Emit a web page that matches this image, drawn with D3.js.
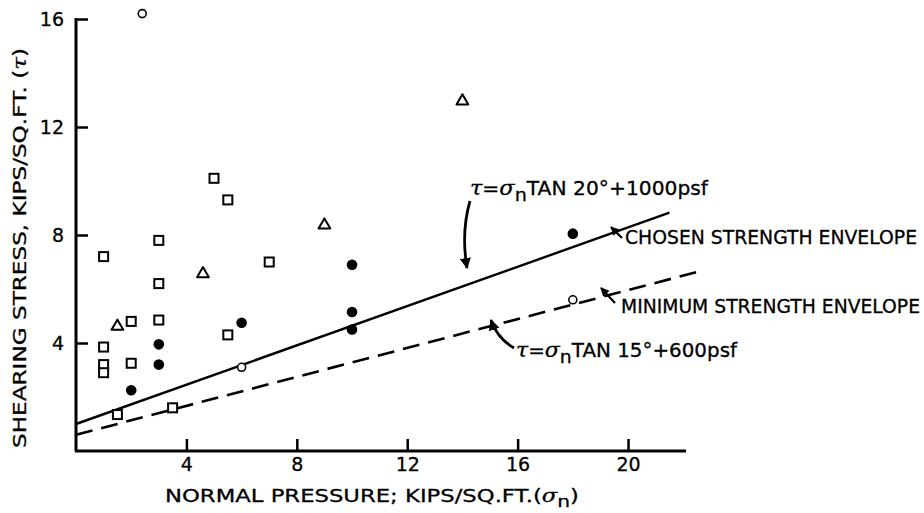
<!DOCTYPE html>
<html>
<head>
<meta charset="utf-8">
<script src="https://cdn.jsdelivr.net/npm/d3@7"></script>
<style>
  html, body { margin: 0; padding: 0; background: #fff; }
  svg { display: block; }
  text { font-family: "DejaVu Sans", "Liberation Sans", Arial, sans-serif; fill: #000; stroke: #000; stroke-width: 0.3px; }
</style>
</head>
<body>
<svg id="chart" width="924" height="513"></svg>
<script>
// Direct shear test results: normal pressure (sigma_n) vs shearing stress (tau), kips/sq.ft.
const squarePoints = [
  [1, 7.2], [5, 10.1], [5.5, 9.3], [3, 7.8], [7, 7.0], [3, 6.2], [2, 4.8], [3, 4.85],
  [5.5, 4.3], [1, 3.85], [1, 3.2], [1, 2.9], [2, 3.25], [1.5, 1.35], [3.5, 1.6]
];
const trianglePoints = [[4.6, 6.6], [1.5, 4.65], [14, 13.0], [9, 8.4]];
const filledCirclePoints = [[3, 3.95], [3, 3.2], [2, 2.25], [6, 4.75], [10, 6.9], [10, 5.15], [10, 4.5], [18, 8.05]];
const openCirclePoints = [[6, 3.1], [18, 5.6], [2.4, 16.2]];

const xTicks = [4, 8, 12, 16, 20];
const yTicks = [4, 8, 12, 16];

// Strength envelopes: tau = sigma_n * tan(phi) + c  (c in kips/sq.ft.)
const chosenEnvelope = { phiDeg: 20, cohesion: 1.0, xEnd: 21.5 };
const minimumEnvelope = { phiDeg: 15, cohesion: 0.6, xEnd: 22.6 };

const svg = d3.select("#chart");
const FONT = '"DejaVu Sans", "Liberation Sans", Arial, sans-serif';
const GREEK = '"DejaVu Serif", serif';

const x = d3.scaleLinear().domain([0, 22.1]).range([76, 686]);
const y = d3.scaleLinear().domain([0, 16]).range([451, 19]);

// Axes with inward ticks
const yAxis = d3.axisLeft(y).tickValues(yTicks).tickSize(-12).tickSizeOuter(0).tickPadding(12);
const xAxis = d3.axisBottom(x).tickValues(xTicks).tickSize(-12).tickSizeOuter(0).tickPadding(7);

const gy = svg.append("g").attr("transform", `translate(${x(0)},0)`).call(yAxis);
const gx = svg.append("g").attr("transform", `translate(0,${y(0)})`).call(xAxis);

[gx, gy].forEach(g => {
  g.select(".domain").attr("stroke", "#000").attr("stroke-width", 3);
  g.selectAll(".tick line").attr("stroke", "#000").attr("stroke-width", 2.5);
  g.selectAll(".tick text")
    .attr("fill", "#000")
    .style("font-family", FONT)
    .style("font-size", "19px");
});
// square corners where the axes end
gy.select(".domain").attr("d", `M0,${y(0)}V${y(16) - 1}`);
gx.select(".domain").attr("d", `M${x(0) - 1},0H${x.range()[1]}`);

// Axis titles
const xTitle = svg.append("text")
  .attr("x", 165).attr("y", 502)
  .attr("textLength", 414).attr("lengthAdjust", "spacingAndGlyphs")
  .style("font-size", "18px");
xTitle.append("tspan").text("NORMAL PRESSURE; KIPS/SQ.FT.(");
xTitle.append("tspan").style("font-family", GREEK).style("font-style", "italic").text("σ");
xTitle.append("tspan").attr("dy", 5).style("font-size", "16px").text("n");
xTitle.append("tspan").attr("dy", -5).text(")");

const yTitle = svg.append("text")
  .attr("transform", "translate(26,248) rotate(-90)")
  .attr("text-anchor", "middle")
  .attr("textLength", 400).attr("lengthAdjust", "spacingAndGlyphs")
  .style("font-size", "18px");
yTitle.append("tspan").text("SHEARING STRESS, KIPS/SQ.FT. (");
yTitle.append("tspan").style("font-family", GREEK).style("font-style", "italic").text("τ");
yTitle.append("tspan").text(")");

// Envelope lines
const line = d3.line().x(d => x(d[0])).y(d => y(d[1]));
function envelope(e) {
  const t = Math.tan(e.phiDeg * Math.PI / 180);
  return [[0, e.cohesion], [e.xEnd, e.cohesion + t * e.xEnd]];
}
svg.append("path").datum(envelope(chosenEnvelope))
  .attr("d", line).attr("fill", "none").attr("stroke", "#000").attr("stroke-width", 2.4);
svg.append("path").datum(envelope(minimumEnvelope))
  .attr("d", line).attr("fill", "none").attr("stroke", "#000").attr("stroke-width", 2.6)
  .attr("stroke-dasharray", "17,9");

// Markers
const pts = svg.append("g");
const sq = 9;
pts.selectAll(".sq").data(squarePoints).join("rect")
  .attr("x", d => x(d[0]) - sq / 2).attr("y", d => y(d[1]) - sq / 2)
  .attr("width", sq).attr("height", sq)
  .attr("fill", "#fff").attr("stroke", "#000").attr("stroke-width", 2);
const tri = d3.symbol().type(d3.symbolTriangle).size(60);
pts.selectAll(".tri").data(trianglePoints).join("path")
  .attr("d", tri)
  .attr("transform", d => `translate(${x(d[0])},${y(d[1]) + 1})`)
  .attr("fill", "#fff").attr("stroke", "#000").attr("stroke-width", 2).attr("stroke-linejoin", "round");
pts.selectAll(".fc").data(filledCirclePoints).join("circle")
  .attr("cx", d => x(d[0])).attr("cy", d => y(d[1])).attr("r", 5.3).attr("fill", "#000");
pts.selectAll(".oc").data(openCirclePoints).join("circle")
  .attr("cx", d => x(d[0])).attr("cy", d => y(d[1])).attr("r", 4)
  .attr("fill", "#fff").attr("stroke", "#000").attr("stroke-width", 1.6);

// Equation labels
function equation(px, py, phi, cText, len) {
  const t = svg.append("text").attr("x", px).attr("y", py).style("font-size", "19px")
    .attr("textLength", len).attr("lengthAdjust", "spacingAndGlyphs");
  t.append("tspan").style("font-family", GREEK).style("font-style", "italic").style("font-size", "21px").text("τ");
  t.append("tspan").text("=");
  t.append("tspan").style("font-family", GREEK).style("font-style", "italic").style("font-size", "21px").text("σ");
  t.append("tspan").attr("dy", 6).style("font-size", "18px").text("n");
  t.append("tspan").attr("dy", -6).text(`TAN ${phi}°+${cText}psf`);
  return t;
}
equation(470, 195, chosenEnvelope.phiDeg, "1000", 238);
equation(516, 357, minimumEnvelope.phiDeg, "600", 221);

svg.append("text").attr("x", 625).attr("y", 244).style("font-size", "19px")
  .attr("textLength", 292).attr("lengthAdjust", "spacingAndGlyphs").text("CHOSEN STRENGTH ENVELOPE");
svg.append("text").attr("x", 621).attr("y", 313).style("font-size", "19px")
  .attr("textLength", 299).attr("lengthAdjust", "spacingAndGlyphs").text("MINIMUM STRENGTH ENVELOPE");

// Leader arrows
const defs = svg.append("defs");
defs.append("marker").attr("id", "head").attr("viewBox", "0 0 10 10")
  .attr("refX", 9).attr("refY", 5).attr("markerWidth", 4).attr("markerHeight", 4)
  .attr("orient", "auto")
  .append("path").attr("d", "M0,0L10,5L0,10Z").attr("fill", "#000");

function leader(d, w) {
  svg.append("path").attr("d", d).attr("fill", "none").attr("stroke", "#000")
    .attr("stroke-width", w).attr("marker-end", "url(#head)");
}
leader("M470,201 Q461,232 467,268", 2.8);
leader("M514,348 Q497,338 491,320", 2.8);
leader("M622,238 L611,227", 2.2);
leader("M615,303 L601,288", 2.2);
</script>
</body>
</html>
